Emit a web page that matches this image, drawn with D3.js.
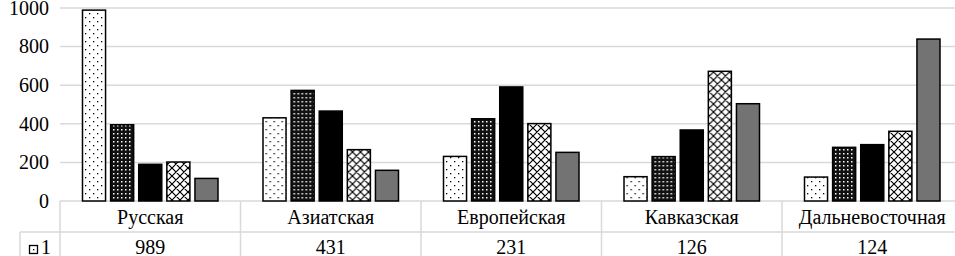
<!DOCTYPE html>
<html>
<head>
<meta charset="utf-8">
<script src="https://cdn.jsdelivr.net/npm/d3@7"></script>
<style>
  html, body { margin: 0; padding: 0; background: #fff; }
  svg { display: block; }
</style>
</head>
<body>
<div id="chart"></div>
<script>
// categories and series values
var categories = ["Русская", "Азиатская", "Европейская", "Кавказская", "Дальневосточная"];
var seriesNames = ["1", "2", "3", "4", "5"];
var series1 = [989, 431, 231, 126, 124];
var series2 = [395, 573, 426, 230, 278];
var series3 = [190, 466, 591, 368, 292];
var series4 = [202, 266, 401, 672, 361];
var series5 = [117, 159, 252, 504, 839];
var yTicks = [0, 200, 400, 600, 800, 1000];

var allSeries = [series1, series2, series3, series4, series5];

var width = 955, height = 256;
var gridColor = "#d9d9d9";
var font = "'Times New Roman', 'Liberation Serif', Tinos, 'DejaVu Serif', 'Noto Serif', FreeSerif, serif";

var svg = d3.select("#chart")
    .append("svg")
    .attr("width", width)
    .attr("height", height)
    .style("font-family", font);

// fill patterns
var defs = svg.append("defs");

var p1 = defs.append("pattern").attr("id", "pat1")
    .attr("patternUnits", "userSpaceOnUse").attr("width", 8).attr("height", 8);
p1.append("rect").attr("width", 8).attr("height", 8).attr("fill", "#fff");
p1.append("rect").attr("x", 1).attr("y", 1).attr("width", 1.3).attr("height", 1.3).attr("fill", "#000");
p1.append("rect").attr("x", 5).attr("y", 5).attr("width", 1.3).attr("height", 1.3).attr("fill", "#000");

var p2 = defs.append("pattern").attr("id", "pat2")
    .attr("patternUnits", "userSpaceOnUse").attr("width", 4).attr("height", 4);
p2.append("rect").attr("width", 4).attr("height", 4).attr("fill", "#111");
p2.append("rect").attr("x", 1).attr("y", 1).attr("width", 1.5).attr("height", 1.5).attr("fill", "#fff");

var p4 = defs.append("pattern").attr("id", "pat4")
    .attr("patternUnits", "userSpaceOnUse").attr("width", 8).attr("height", 8);
p4.append("rect").attr("width", 8).attr("height", 8).attr("fill", "#fff");
p4.append("path").attr("d", "M0,0L8,8M8,0L0,8M-1,7L1,9M7,-1L9,1M-1,1L1,-1M7,9L9,7")
    .attr("stroke", "#000").attr("stroke-width", 1.2);

var fills = ["url(#pat1)", "url(#pat2)", "#000", "url(#pat4)", "#737373"];

// scales
var x0 = d3.scaleBand()
    .domain(categories)
    .range([60, 962.5])
    .padding(0);

var x1 = d3.scaleBand()
    .domain(seriesNames)
    .range([22.5, 158])
    .paddingInner(0.18);

var y = d3.scaleLinear()
    .domain([0, 1000])
    .range([201, 8]);

// gridlines
svg.append("g")
    .selectAll("line")
    .data(yTicks)
    .enter()
    .append("line")
    .attr("x1", 60)
    .attr("x2", width)
    .attr("y1", d => y(d))
    .attr("y2", d => y(d))
    .attr("stroke", gridColor)
    .attr("stroke-width", 1.5);

// y axis labels
svg.append("g")
    .selectAll("text")
    .data(yTicks)
    .enter()
    .append("text")
    .attr("x", 49)
    .attr("y", d => y(d))
    .attr("dy", "0.34em")
    .attr("text-anchor", "end")
    .style("font-size", "20px")
    .text(d => d);

// bars
var groups = svg.append("g")
    .selectAll("g")
    .data(categories)
    .enter()
    .append("g")
    .attr("transform", d => "translate(" + x0(d) + ",0)");

groups.selectAll("rect")
    .data((d, i) => allSeries.map((s, j) => ({ name: seriesNames[j], value: s[i], k: j })))
    .enter()
    .append("rect")
    .attr("x", d => x1(d.name))
    .attr("width", x1.bandwidth())
    .attr("y", d => y(d.value))
    .attr("height", d => y(0) - y(d.value))
    .attr("fill", d => fills[d.k])
    .attr("stroke", "#000")
    .attr("stroke-width", 1.5);

// data table
var table = svg.append("g");

table.selectAll(".vline")
    .data(categories.concat(["end"]))
    .enter()
    .append("line")
    .attr("x1", (d, i) => 60 + i * x0.bandwidth())
    .attr("x2", (d, i) => 60 + i * x0.bandwidth())
    .attr("y1", 201)
    .attr("y2", height)
    .attr("stroke", gridColor)
    .attr("stroke-width", 1.5);

table.append("line")
    .attr("x1", 20).attr("x2", width)
    .attr("y1", 232).attr("y2", 232)
    .attr("stroke", gridColor).attr("stroke-width", 1.5);

table.append("line")
    .attr("x1", 20).attr("x2", 20)
    .attr("y1", 232).attr("y2", height)
    .attr("stroke", gridColor).attr("stroke-width", 1.5);

table.selectAll(".cat")
    .data(categories)
    .enter()
    .append("text")
    .attr("x", d => x0(d) + x0.bandwidth() / 2)
    .attr("y", 224)
    .attr("text-anchor", "middle")
    .style("font-size", "20px")
    .text(d => d);

table.selectAll(".val")
    .data(series1)
    .enter()
    .append("text")
    .attr("x", (d, i) => x0(categories[i]) + x0.bandwidth() / 2)
    .attr("y", 254)
    .attr("text-anchor", "middle")
    .style("font-size", "20px")
    .text(d => d);

// legend key in table row
table.append("rect")
    .attr("x", 29.5).attr("y", 245.5)
    .attr("width", 8).attr("height", 8)
    .attr("fill", fills[0])
    .attr("stroke", "#000")
    .attr("stroke-width", 1.3);

table.append("text")
    .attr("x", 41)
    .attr("y", 254)
    .style("font-size", "20px")
    .text(seriesNames[0]);
</script>
</body>
</html>
